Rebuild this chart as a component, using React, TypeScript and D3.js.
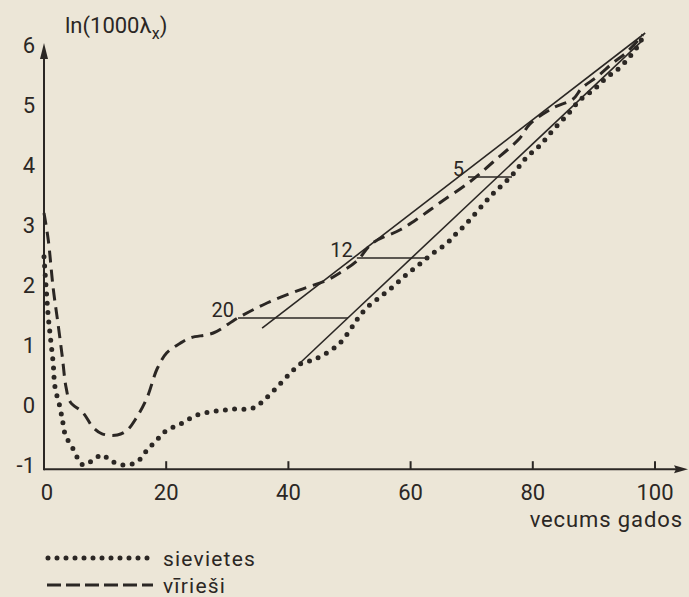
import React from 'react';
import * as d3 from 'd3';

// ---- data ----
const femaleAges = [0, 0.35, 0.7, 1.1, 1.5, 1.8, 2.6, 3.1, 3.5, 4.7, 6.4, 8.0, 9.5, 10.8, 12.9, 15.2, 16.9, 18.5, 20.1, 22.3, 25.0, 28.3, 31.0, 34.2, 36.5, 40.3, 41.9, 44.0, 46.3, 48.4, 50.1, 51.2, 52.9, 55.0, 57.1, 59.4, 61.5, 63.7, 66.0, 67.6, 69.2, 73.0, 76.6, 79.0, 81.2, 83.3, 85.6, 87.7, 89.9, 92.0, 94.3, 97.1, 98.0];
const femaleValues = [2.47, 1.95, 1.47, 1.08, 0.7, 0.3, -0.03, -0.3, -0.5, -0.72, -1.0, -0.92, -0.83, -0.92, -1.0, -0.95, -0.75, -0.58, -0.42, -0.32, -0.17, -0.1, -0.07, -0.05, 0.13, 0.53, 0.68, 0.75, 0.87, 1.03, 1.25, 1.42, 1.63, 1.8, 1.97, 2.18, 2.35, 2.53, 2.7, 2.87, 3.03, 3.47, 3.83, 4.13, 4.33, 4.58, 4.83, 5.08, 5.25, 5.45, 5.63, 5.97, 6.13];

const maleAges = [0, 0.7, 1.5, 2.3, 3.0, 3.6, 4.3, 6.4, 8.0, 9.5, 12.0, 13.6, 15.2, 16.9, 18.5, 20.1, 22.3, 24.0, 27.7, 31.7, 36.5, 41.9, 46.3, 48.4, 51.2, 53.8, 58.3, 61.5, 64.8, 69.7, 73.5, 77.9, 79.5, 83.3, 86.6, 88.0, 90.5, 93.1, 95.4, 98.0];
const maleValues = [3.2, 2.75, 1.95, 1.35, 0.8, 0.3, 0.05, -0.13, -0.37, -0.48, -0.5, -0.42, -0.2, 0.13, 0.6, 0.87, 1.03, 1.12, 1.2, 1.45, 1.7, 1.92, 2.08, 2.2, 2.4, 2.7, 2.92, 3.13, 3.37, 3.72, 4.05, 4.45, 4.68, 4.95, 5.1, 5.28, 5.47, 5.7, 5.88, 6.17];

const maleFitAges = [35.7, 98.4];
const maleFitValues = [1.28, 6.2];
const femaleFitAges = [41.9, 98.0];
const femaleFitValues = [0.7, 6.08];

const gapLabels = ['20', '12', '5'];
const gapLevels = [1.45, 2.45, 3.8];
const gapStartAges = [31.75, 51.2, 69.4];
const gapEndAges = [49.75, 62.85, 76.6];

const xTickLabels = [0, 20, 40, 60, 80, 100];
const xTickMarks = [20, 40, 60, 80, 100];
const yTickLabels = [-1, 0, 1, 2, 3, 4, 5, 6];

const legendNames = ['sievietes', 'vīrieši'];
const xAxisTitle = 'vecums gados';

// ---- layout ----
const W = 689;
const H = 597;
const INK = '#2b2724';
const PAPER = '#ece6d7';
const FONT = 'Roboto, "DejaVu Sans", sans-serif';

const x = d3.scaleLinear().domain([0, 100]).range([44, 655]);
const y = d3.scaleLinear().domain([-1, 6]).range([465, 45]);

const axisY = y(-1.07);
const axisX = x(0);

const curve = d3.line<[number, number]>()
  .x((d) => x(d[0]))
  .y((d) => y(d[1]))
  .curve(d3.curveCatmullRom.alpha(0.5));

const straight = d3.line<[number, number]>()
  .x((d) => x(d[0]))
  .y((d) => y(d[1]));

const femalePts: [number, number][] = femaleAges.map((a, i) => [a, femaleValues[i]]);
const malePts: [number, number][] = maleAges.map((a, i) => [a, maleValues[i]]);
const maleFit: [number, number][] = maleFitAges.map((a, i) => [a, maleFitValues[i]]);
const femaleFit: [number, number][] = femaleFitAges.map((a, i) => [a, femaleFitValues[i]]);

export default function App() {
  return (
    <svg
      width={W}
      height={H}
      viewBox={`0 0 ${W} ${H}`}
      style={{ position: 'absolute', left: 0, top: 0, display: 'block' }}
    >
      <rect x={0} y={0} width={W} height={H} fill={PAPER} />

      {/* axes */}
      <line x1={axisX} y1={axisY} x2={678} y2={axisY} stroke={INK} strokeWidth={2} />
      <path d={`M${688},${axisY} L${674},${axisY - 4} L${676},${axisY} L${674},${axisY + 4} Z`} fill={INK} />
      <line x1={axisX} y1={axisY + 1} x2={axisX} y2={56} stroke={INK} strokeWidth={2} />
      <path d={`M${axisX},${y(6) - 2} L${axisX - 4},${y(6) + 14} L${axisX + 4},${y(6) + 14} Z`} fill={INK} />

      {xTickMarks.map((t) => (
        <line key={`xt${t}`} x1={x(t)} x2={x(t)} y1={axisY} y2={axisY - 8} stroke={INK} strokeWidth={2} />
      ))}
      {xTickLabels.map((t) => (
        <text key={`xl${t}`} x={x(t) + (t === 0 ? 3 : 0)} y={500} textAnchor="middle" fontFamily={FONT} fontSize={22} fill={INK}>
          {t}
        </text>
      ))}
      {yTickLabels.map((t) => (
        <text key={`yl${t}`} x={35} y={y(t)} dy="0.36em" textAnchor="end" fontFamily={FONT} fontSize={22} fill={INK}>
          {t}
        </text>
      ))}

      <text x={683} y={527} textAnchor="end" fontFamily={FONT} fontSize={22} letterSpacing={0.9} fill={INK}>
        {xAxisTitle}
      </text>
      <text x={65} y={33} fontFamily={FONT} fontSize={22} fill={INK}>
        ln(1000λ<tspan fontSize={16} dy={6}>x</tspan><tspan dy={-6}>)</tspan>
      </text>

      {/* Gompertz straight lines */}
      <path d={straight(maleFit) || ''} fill="none" stroke={INK} strokeWidth={1.6} />
      <path d={straight(femaleFit) || ''} fill="none" stroke={INK} strokeWidth={1.6} />

      {/* gap segments */}
      {gapLevels.map((lv, i) => (
        <g key={`gap${i}`}>
          <line x1={x(gapStartAges[i])} x2={x(gapEndAges[i])} y1={y(lv)} y2={y(lv)} stroke={INK} strokeWidth={1.6} />
          <text x={x(gapStartAges[i]) - 4} y={y(lv) - 1} textAnchor="end" fontFamily={FONT} fontSize={20} fill={INK}>
            {gapLabels[i]}
          </text>
        </g>
      ))}

      {/* curves */}
      <path d={curve(malePts) || ''} fill="none" stroke={INK} strokeWidth={3} strokeDasharray="12 7" />
      <path d={curve(femalePts) || ''} fill="none" stroke={INK} strokeWidth={5} strokeLinecap="round" strokeDasharray="0 9.3" />

      {/* legend */}
      <line x1={48} x2={153} y1={558} y2={558} stroke={INK} strokeWidth={5} strokeLinecap="round" strokeDasharray="0 9" />
      <text x={163} y={566} fontFamily={FONT} fontSize={21} letterSpacing={1.2} fill={INK}>{legendNames[0]}</text>
      <line x1={47} x2={153} y1={585} y2={585} stroke={INK} strokeWidth={3} strokeDasharray="14 5" />
      <text x={163} y={593} fontFamily={FONT} fontSize={21} letterSpacing={1.2} fill={INK}>{legendNames[1]}</text>
    </svg>
  );
}
